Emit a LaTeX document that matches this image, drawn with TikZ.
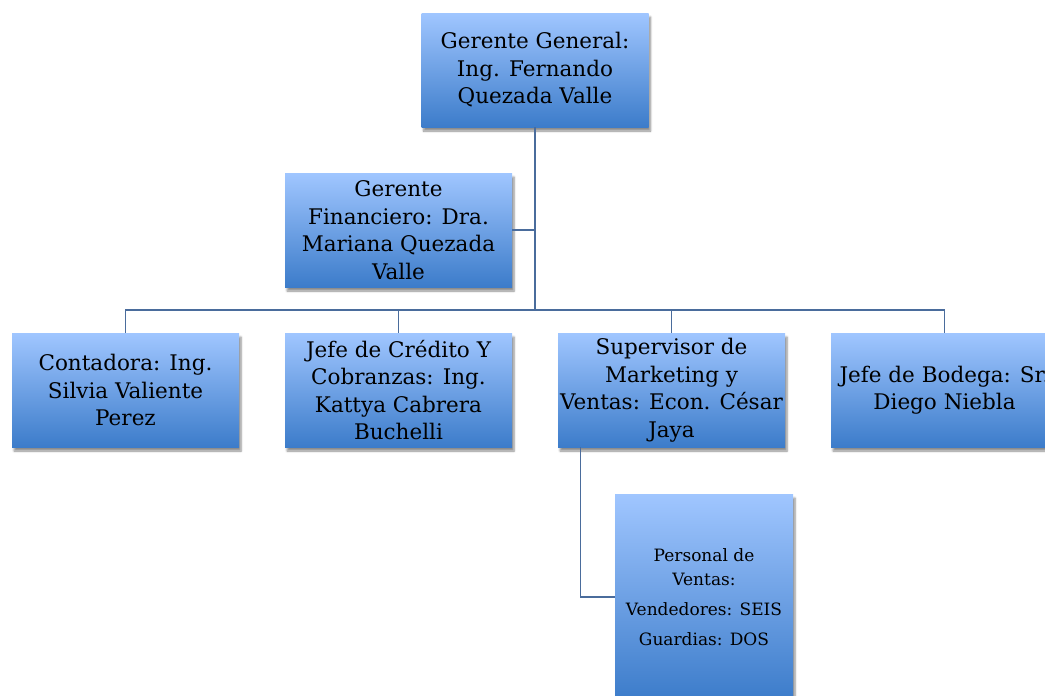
\documentclass[tikz,border=0pt]{standalone}
\usepackage{fontspec}
\setmainfont{DejaVu Serif}
\usetikzlibrary{shadows.blur,calc}
\definecolor{boxtop}{RGB}{160,198,255}
\definecolor{boxbot}{RGB}{60,124,202}
\definecolor{linec}{RGB}{74,108,156}
\tikzset{
  orgbox/.style={rectangle, minimum width=227pt, minimum height=114pt, inner sep=0pt,
    top color=boxtop, bottom color=boxbot, align=center,
    font=\fontsize{21.5}{27.5}\selectfont,
    blur shadow={shadow xshift=2pt, shadow yshift=-4pt, shadow blur steps=6, shadow opacity=45}},
  smallbox/.style={orgbox, minimum width=178pt, minimum height=206pt, font=\fontsize{17}{24}\selectfont},
  conn/.style={draw=linec, line width=1.6pt}
}
\begin{document}
\begin{tikzpicture}[x=1pt,y=-1pt]
\useasboundingbox (0,0) rectangle (1045,696);
\clip (0,0) rectangle (1045,696);
\coordinate (hub) at (535,310);
\node[orgbox] (gg) at (535,70) {Gerente General:\\Ing. Fernando\\Quezada Valle};
\node[orgbox] (gf) at (398.5,230) {Gerente\\Financiero: Dra.\\Mariana Quezada\\Valle};
\node[orgbox] (cont) at (125.5,390) {Contadora: Ing.\\Silvia Valiente\\Perez};
\node[orgbox] (cred) at (398.5,390) {Jefe de Crédito Y\\Cobranzas: Ing.\\Kattya Cabrera\\Buchelli};
\node[orgbox] (sup) at (671.5,390) {Supervisor de\\Marketing y\\Ventas: Econ. César\\Jaya};
\node[orgbox] (bod) at (944.5,390) {Jefe de Bodega: Sr.\\Diego Niebla};
\node[smallbox] (pv) at (704,597) {Personal de\\Ventas:\\[6pt]Vendedores: SEIS\\[6pt]Guardias: DOS};
\coordinate (supout) at ($(sup.south west)!0.1!(sup.south east)$);
\draw[conn] (gg.south) -- (hub);
\draw[conn] (gf.east) -- (gf.east -| hub);
\draw[conn] (cont.north) |- (bod.north |- hub) -- (bod.north);
\draw[conn] (cred.north) -- (cred.north |- hub);
\draw[conn] (sup.north) -- (sup.north |- hub);
\draw[conn] (supout) |- (pv.west);
\end{tikzpicture}
\end{document}
